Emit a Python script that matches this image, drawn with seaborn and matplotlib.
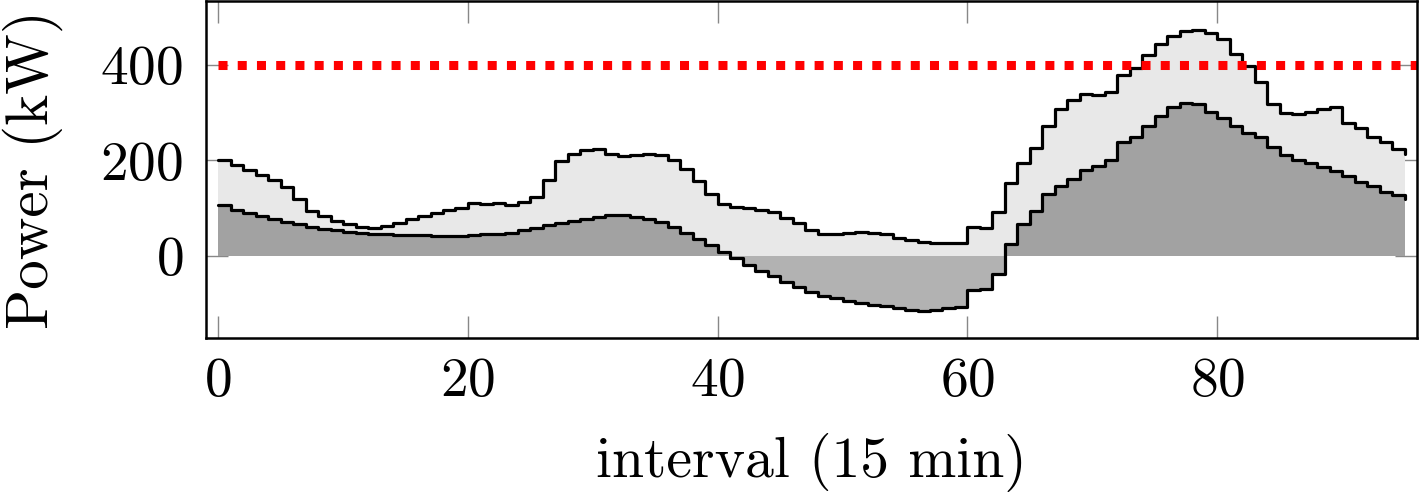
import numpy as np
import pandas as pd
import matplotlib

matplotlib.use("Agg")

import matplotlib.pyplot as plt
import seaborn as sns

# ============================================================
# DATA (kW per 15-min interval)
# ============================================================

intervals = list(range(96))

load_kw = [
    200, 191, 179, 170, 160, 145, 119, 94, 83, 74, 66, 61,
    59, 62, 68, 78, 83, 91, 96, 100, 110, 109, 110, 106,
    114, 123, 159, 199, 213, 221, 223, 213, 209, 212, 213, 212,
    202, 183, 156, 129, 109, 103, 100, 97, 93, 80, 68, 55,
    47, 45, 48, 51, 49, 45, 38, 33, 29, 27, 28, 27,
    61, 59, 92, 152, 195, 226, 273, 307, 327, 340, 338, 343,
    380, 394, 421, 443, 461, 472, 474, 468, 454, 424, 397, 364,
    318, 300, 297, 301, 308, 312, 279, 268, 249, 239, 225, 214,
]

net_kw = [
    107, 97, 89, 83, 78, 72, 66, 61, 57, 54, 51, 49,
    47, 45, 44, 43, 43, 42, 41, 42, 43, 45, 46, 49,
    54, 59, 64, 68, 73, 78, 82, 85, 85, 82, 78, 71,
    61, 48, 36, 22, 8, -5, -19, -31, -41, -54, -64, -75,
    -83, -89, -94, -99, -102, -105, -108, -113, -115, -114, -110, -107,
    -71, -70, -37, 25, 66, 94, 129, 146, 161, 181, 188, 202,
    238, 249, 273, 294, 311, 321, 319, 302, 289, 273, 258, 249,
    228, 212, 202, 195, 187, 178, 168, 155, 146, 135, 128, 119,
]

PEAK_LIMIT = 400
X_TICKS = [0, 20, 40, 60, 80]
Y_TICKS = [0, 200, 400]

# ============================================================
# STYLE
# ============================================================

sns.set_style("ticks")
plt.rcParams["font.family"] = ["cmr10", "DejaVu Serif"]
plt.rcParams["mathtext.fontset"] = "cm"
plt.rcParams["axes.formatter.use_mathtext"] = True
plt.rcParams["text.color"] = "black"
plt.rcParams["axes.labelcolor"] = "black"
plt.rcParams["xtick.labelcolor"] = "black"
plt.rcParams["ytick.labelcolor"] = "black"

df = pd.DataFrame({"interval": intervals, "load": load_kw, "net": net_kw})

fig = plt.figure(figsize=(14.19, 4.95), dpi=100)
ax = fig.add_axes([0.145, 0.317, 0.8536, 0.681])

ax.fill_between(df["interval"], 0, df["load"], step="post",
                color="#e8e8e8", linewidth=0, zorder=1)
ax.fill_between(df["interval"], 0, df["net"], step="post",
                color="black", alpha=0.30, linewidth=0, zorder=2)

sns.lineplot(data=df, x="interval", y="load", drawstyle="steps-post",
             color="black", linewidth=2.3, ax=ax, zorder=3)
sns.lineplot(data=df, x="interval", y="net", drawstyle="steps-post",
             color="black", linewidth=2.3, ax=ax, zorder=3)

ax.plot([0, 96], [PEAK_LIMIT, PEAK_LIMIT], color="red", linewidth=6.5,
        linestyle=(0, (1, 1.13)), zorder=4)

ax.set_xlim(-1, 96)
ax.set_ylim(-172, 534)
ax.set_xticks(X_TICKS)
ax.set_yticks(Y_TICKS)
ax.tick_params(direction="in", length=16, width=1.0, color="#888888",
               top=True, right=True, labelsize=40)
ax.tick_params(axis="x", pad=14)
ax.tick_params(axis="y", pad=16)

ax.set_xlabel("interval (15 min)", fontsize=41.5, labelpad=19)
ax.set_ylabel("Power (kW)", fontsize=42.5, labelpad=27)

for sp in ax.spines.values():
    sp.set_color("black"); sp.set_linewidth(1.8)
    sp.set_zorder(5)

plt.savefig("out.png", dpi=100)
plt.close()
